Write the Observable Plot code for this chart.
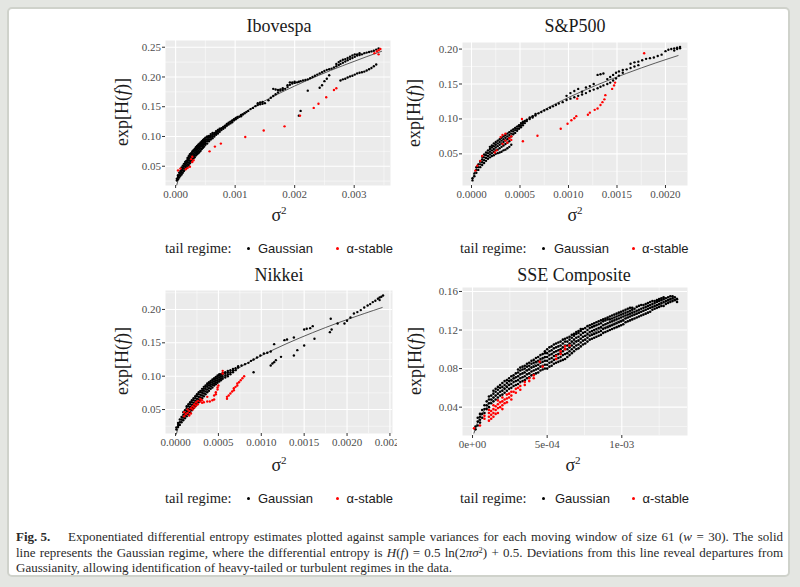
<!DOCTYPE html>
<html><head><meta charset="utf-8">
<script src="https://cdn.jsdelivr.net/npm/d3@7"></script>
<script src="https://cdn.jsdelivr.net/npm/@observablehq/plot@0.6"></script>
<style>
html,body{margin:0;padding:0;}
body{width:800px;height:587px;overflow:hidden;position:relative;background:#e4e6e2;font-family:"Liberation Serif",serif;}
#card{position:absolute;left:7px;top:7px;width:783px;height:570px;background:#fff;border:2px solid #cfd2cb;border-radius:5px;box-sizing:border-box;}
.abs{position:absolute;white-space:nowrap;}
.title{font-size:18px;color:#1a1a1a;}
.ylab{font-size:18px;color:#1a1a1a;}
.xlab{font-size:18px;color:#1a1a1a;}
.xlab sup{font-size:11px;vertical-align:0.55em;line-height:0;}
.lg-t{font-size:14.5px;color:#1a1a1a;font-family:"Liberation Serif",serif;}
.lg-k{font-family:"Liberation Sans",sans-serif;font-size:13px;color:#1a1a1a;}
.dot{width:3px;height:3px;border-radius:50%;}
.cap{font-size:13px;color:#2a2a2a;line-height:15px;}
.cap sup{font-size:8.5px;vertical-align:0.5em;line-height:0;}
svg{overflow:hidden;}
</style></head><body>
<div id="card"></div>
<script>
// ---------- data ----------
const titles = ["Ibovespa", "S&P500", "Nikkei", "SSE Composite"];
const legendTitle = "tail regime:";
const legendKeys = ["Gaussian", "α-stable"];

// tick values and labels
const iboXTicks = [0, 0.001, 0.002, 0.003];
const iboXLabels = ["0.000", "0.001", "0.002", "0.003"];
const iboXMinor = [0.0005, 0.0015, 0.0025, 0.0035];
const iboYTicks = [0.05, 0.10, 0.15, 0.20, 0.25];
const iboYLabels = ["0.05", "0.10", "0.15", "0.20", "0.25"];
const iboYMinor = [0.025, 0.075, 0.125, 0.175, 0.225];

const spXTicks = [0, 0.0005, 0.001, 0.0015, 0.002];
const spXLabels = ["0.0000", "0.0005", "0.0010", "0.0015", "0.0020"];
const spXMinor = [0.00025, 0.00075, 0.00125, 0.00175];
const spYTicks = [0.05, 0.10, 0.15, 0.20];
const spYLabels = ["0.05", "0.10", "0.15", "0.20"];
const spYMinor = [0.025, 0.075, 0.125, 0.175];

const nikXTicks = [0, 0.0005, 0.001, 0.0015, 0.002, 0.0025];
const nikXLabels = ["0.0000", "0.0005", "0.0010", "0.0015", "0.0020", "0.0025"];
const nikXMinor = [0.00025, 0.00075, 0.00125, 0.00175, 0.00225];
const nikYTicks = [0.05, 0.10, 0.15, 0.20];
const nikYLabels = ["0.05", "0.10", "0.15", "0.20"];
const nikYMinor = [0.025, 0.075, 0.125, 0.175, 0.225];

const sseXTicks = [0, 0.0005, 0.001];
const sseXLabels = ["0e+00", "5e-04", "1e-03"];
const sseXMinor = [0.00025, 0.00075, 0.00125];
const sseYTicks = [0.04, 0.08, 0.12, 0.16];
const sseYLabels = ["0.04", "0.08", "0.12", "0.16"];
const sseYMinor = [0.02, 0.06, 0.10, 0.14];

// Gaussian-regime reference curve (sigma^2, exp[H(f)])
const iboLineX = [0.00002, 0.00005, 0.0001, 0.0002, 0.0003, 0.0005, 0.0007, 0.001, 0.0013, 0.0016, 0.002, 0.0024, 0.0028, 0.0032, 0.00346];
const iboLineY = [0.0185, 0.0292, 0.0413, 0.0584, 0.0716, 0.0924, 0.1093, 0.1307, 0.149, 0.1653, 0.1848, 0.2025, 0.2187, 0.2338, 0.2431];
const spLineX = [0.00001, 0.00003, 0.00006, 0.0001, 0.0002, 0.0003, 0.0005, 0.0007, 0.001, 0.0013, 0.0016, 0.0019, 0.00213];
const spLineY = [0.0131, 0.0226, 0.032, 0.0413, 0.0584, 0.0716, 0.0924, 0.1093, 0.1307, 0.149, 0.1653, 0.1802, 0.1907];
const nikLineX = [0.00001, 0.00003, 0.00006, 0.0001, 0.0002, 0.0003, 0.0005, 0.0007, 0.001, 0.0013, 0.0016, 0.0019, 0.0022, 0.00241];
const nikLineY = [0.0131, 0.0226, 0.032, 0.0413, 0.0584, 0.0716, 0.0924, 0.1093, 0.1307, 0.149, 0.1653, 0.1802, 0.1938, 0.2029];
const sseLineX = [0.00001, 0.00003, 0.00006, 0.0001, 0.0002, 0.0003, 0.0005, 0.0007, 0.001, 0.0013, 0.00137];
const sseLineY = [0.0131, 0.0226, 0.032, 0.0413, 0.0584, 0.0716, 0.0924, 0.1093, 0.1307, 0.149, 0.153];

// scatter points: each row is [sigma^2, exp[H(f)] values at that sigma^2 ...]
const iboGaussian = [
[0.00002,0.026,0.029],[0.00004,0.028,0.032,0.035],[0.00006,0.031,0.035,0.039],[0.00008,0.034,0.038,0.042],
[0.0001,0.036,0.04,0.044,0.048],[0.00012,0.039,0.043,0.047,0.051],[0.00014,0.042,0.046,0.05,0.054],
[0.00016,0.045,0.049,0.053,0.057],[0.00018,0.047,0.051,0.055,0.059],[0.0002,0.049,0.053,0.057,0.061,0.064],
[0.00022,0.052,0.056,0.06,0.064,0.067],[0.00024,0.055,0.059,0.063,0.067,0.07],[0.00026,0.058,0.062,0.066,0.07,0.072],
[0.00028,0.06,0.064,0.068,0.072,0.075],[0.0003,0.063,0.067,0.071,0.075,0.077],[0.00032,0.065,0.069,0.073,0.077,0.079],
[0.00034,0.068,0.072,0.076,0.079,0.082],[0.00036,0.07,0.074,0.078,0.081,0.084],[0.00038,0.072,0.076,0.08,0.083,0.086],
[0.0004,0.074,0.078,0.082,0.085,0.088],[0.00042,0.076,0.08,0.084,0.087,0.09],[0.00044,0.079,0.083,0.086,0.089,0.092],
[0.00046,0.081,0.085,0.088,0.091,0.094],[0.00048,0.083,0.087,0.09,0.093,0.096],[0.0005,0.086,0.089,0.092,0.095,0.098],
[0.00053,0.088,0.092,0.095,0.098,0.1],[0.00056,0.092,0.095,0.098,0.101],[0.00059,0.095,0.098,0.101,0.104],
[0.00062,0.097,0.1,0.103,0.106],[0.00065,0.1,0.103,0.106],[0.00068,0.103,0.106,0.109],[0.00071,0.105,0.108,0.111],
[0.00074,0.108,0.111,0.113],[0.00077,0.111,0.114],[0.0008,0.113,0.116],[0.00083,0.115,0.118],[0.00086,0.118,0.121],
[0.00089,0.12,0.123],[0.00092,0.122,0.125],[0.00095,0.124,0.127],[0.00098,0.127,0.129],[0.00101,0.129,0.131],
[0.00104,0.131,0.133],[0.00107,0.133],[0.0011,0.134,0.136],[0.00113,0.137],[0.00116,0.139],[0.00119,0.141],
[0.00122,0.143],[0.00126,0.146],[0.0013,0.148],[0.00134,0.151],[0.00138,0.153,0.156],[0.00142,0.154,0.157],
[0.00146,0.155,0.158],[0.0015,0.156],[0.00156,0.161],[0.0016,0.165],[0.00164,0.168,0.18],[0.00168,0.171,0.179],
[0.00172,0.174,0.178],[0.00176,0.177,0.179],[0.0018,0.178,0.181],[0.00184,0.18],[0.00188,0.183,0.186],
[0.00192,0.187,0.191],[0.00196,0.189,0.191],[0.002,0.19,0.192],[0.00204,0.191],[0.00207,0.135,0.192],
[0.0021,0.143,0.193],[0.00214,0.194],[0.00218,0.195],[0.00222,0.177,0.196],[0.00226,0.198],[0.0023,0.2],
[0.00234,0.202],[0.00238,0.204],[0.00242,0.182,0.206],[0.00246,0.186,0.208],[0.0025,0.193,0.21],
[0.00254,0.197,0.212],[0.00258,0.203,0.213],[0.00262,0.214],[0.00266,0.216],[0.0027,0.218,0.222],
[0.00274,0.22,0.225],[0.00277,0.194,0.222,0.227],[0.00281,0.196,0.224,0.229],[0.00285,0.197,0.226,0.23],
[0.00289,0.199,0.228,0.232],[0.00293,0.201,0.23,0.234],[0.00297,0.202,0.232,0.236],[0.00301,0.204,0.234,0.238],
[0.00305,0.206,0.236,0.238],[0.00309,0.207,0.237,0.24],[0.00313,0.208,0.238],[0.00317,0.209,0.24],
[0.00321,0.211,0.241],[0.00325,0.213,0.242],[0.00329,0.215,0.243],[0.00333,0.218,0.244],[0.00337,0.221,0.246],
[0.00341,0.248]
];
const iboStable = [
[0.00004,0.043],[0.00008,0.046],[0.00017,0.045],[0.0002,0.047],[0.00024,0.049],[0.00026,0.062],
[0.00028,0.057,0.066],[0.0003,0.06],[0.00057,0.075],[0.00066,0.083],[0.00076,0.088],[0.00117,0.099],
[0.00148,0.11],[0.00183,0.117],[0.00209,0.135],[0.00232,0.148],[0.0024,0.155],[0.00253,0.166],
[0.00266,0.178],[0.0027,0.181],[0.00334,0.24],[0.00338,0.243],[0.00341,0.238,0.245],[0.00344,0.247]
];

const spGaussian = [
[0.00001,0.012,0.015],[0.00003,0.018,0.022],[0.00005,0.023,0.027,0.031],[0.00007,0.027,0.031,0.035],
[0.00009,0.031,0.035,0.039],[0.00011,0.034,0.038,0.042,0.046],[0.00013,0.037,0.041,0.045,0.049],
[0.00015,0.04,0.044,0.048,0.052],[0.00017,0.043,0.047,0.051,0.055],[0.00019,0.045,0.049,0.053,0.057,0.06],
[0.00021,0.047,0.051,0.055,0.059,0.062],[0.00023,0.048,0.053,0.057,0.061,0.065],[0.00025,0.05,0.055,0.059,0.063,0.067],
[0.00027,0.051,0.056,0.061,0.065,0.069],[0.00029,0.052,0.058,0.063,0.067,0.071],[0.00031,0.053,0.06,0.065,0.069,0.073],
[0.00033,0.055,0.062,0.067,0.071,0.075],[0.00035,0.056,0.064,0.069,0.073,0.077],[0.00037,0.058,0.066,0.071,0.075,0.079],
[0.00039,0.06,0.068,0.073,0.077,0.081],[0.00041,0.063,0.075,0.079,0.083],[0.00043,0.078,0.082,0.085],
[0.00045,0.08,0.084,0.087],[0.00047,0.083,0.086,0.089],[0.00049,0.086,0.089,0.091],[0.00051,0.088,0.091,0.094],
[0.00053,0.091,0.094,0.096],[0.00055,0.094,0.097],[0.00057,0.097,0.099],[0.0006,0.1,0.102],[0.00063,0.102,0.104],
[0.00066,0.105,0.107],[0.00069,0.108],[0.00072,0.11],[0.00075,0.112],[0.00078,0.114],[0.00081,0.116],
[0.00084,0.118],[0.00087,0.12],[0.0009,0.122],[0.00094,0.124],[0.00098,0.127,0.133],[0.00102,0.129,0.137],
[0.00106,0.131,0.14],[0.0011,0.133,0.143],[0.00114,0.135,0.139],[0.00118,0.137,0.145],[0.00122,0.14,0.147],
[0.00126,0.142,0.15],[0.0013,0.144,0.163],[0.00133,0.146,0.164],[0.00136,0.148,0.165],[0.0014,0.15,0.157],
[0.00143,0.152,0.16],[0.00146,0.155,0.163],[0.00149,0.158,0.166],[0.00152,0.162,0.168],[0.00156,0.166,0.17],
[0.0016,0.171],[0.00164,0.173,0.179],[0.00168,0.175,0.181],[0.00172,0.177,0.182],[0.00176,0.184],[0.0018,0.186],
[0.00184,0.187],[0.00188,0.188],[0.00192,0.19],[0.00196,0.192],[0.002,0.197],[0.00203,0.199],[0.00206,0.2],
[0.00209,0.198,0.201],[0.00212,0.2,0.202],[0.00215,0.201,0.203]
];
const spStable = [
[0.00004,0.026],[0.00006,0.033],[0.00009,0.04],[0.00011,0.047],[0.00024,0.052],[0.00026,0.055],[0.0003,0.074],
[0.00032,0.064,0.077],[0.00035,0.069,0.079],[0.00037,0.066],[0.00039,0.072],[0.00041,0.07,0.075],[0.00052,0.1],
[0.00053,0.068],[0.00068,0.076],[0.00092,0.086],[0.00099,0.093],[0.00103,0.098],[0.00106,0.101],[0.00108,0.104],
[0.00109,0.129],[0.0012,0.106],[0.00122,0.109],[0.00127,0.113],[0.0013,0.115],[0.00133,0.12],[0.00135,0.124],
[0.00137,0.128],[0.00138,0.134],[0.00145,0.143],[0.00147,0.148],[0.00148,0.152],[0.00178,0.194]
];

const nikGaussian = [
[0.00001,0.02,0.023],[0.00003,0.024,0.027,0.03],[0.00005,0.027,0.031,0.035],[0.00007,0.031,0.035,0.039],
[0.00009,0.034,0.038,0.042,0.046],[0.00011,0.037,0.041,0.045,0.049],[0.00013,0.04,0.044,0.048,0.052,0.055],
[0.00015,0.043,0.047,0.051,0.055,0.058],[0.00017,0.046,0.05,0.054,0.058,0.061],[0.00019,0.049,0.053,0.057,0.061,0.064],
[0.00021,0.052,0.056,0.06,0.064,0.067],[0.00023,0.055,0.059,0.063,0.067,0.07],[0.00025,0.058,0.062,0.066,0.07,0.073],
[0.00027,0.061,0.065,0.069,0.073,0.076],[0.00029,0.064,0.068,0.072,0.076,0.078],[0.00031,0.067,0.071,0.075,0.078,0.081],
[0.00033,0.07,0.074,0.078,0.081,0.084],[0.00035,0.073,0.077,0.081,0.084,0.086],[0.00037,0.076,0.08,0.084,0.087,0.089],
[0.00039,0.078,0.082,0.086,0.089,0.091],[0.00041,0.081,0.085,0.088,0.091,0.093],[0.00043,0.083,0.087,0.09,0.093,0.095],
[0.00045,0.086,0.089,0.092,0.095,0.097],[0.00047,0.088,0.091,0.094,0.097,0.099],[0.00049,0.09,0.093,0.096,0.099,0.101],
[0.00051,0.092,0.095,0.098,0.101,0.103],[0.00053,0.094,0.097,0.1,0.103],[0.00055,0.096,0.099,0.102,0.105],
[0.00058,0.098,0.101,0.104,0.106],[0.00061,0.1,0.103,0.106,0.108],[0.00064,0.103,0.106,0.109],[0.00067,0.106,0.109,0.111],
[0.0007,0.109,0.112],[0.00073,0.113,0.115],[0.00077,0.116],[0.00081,0.118],[0.00085,0.12],[0.00088,0.123],
[0.00091,0.106,0.125],[0.00095,0.128],[0.00099,0.131],[0.00103,0.134],[0.00107,0.135],[0.00111,0.116,0.137],
[0.00113,0.119],[0.00115,0.121,0.148],[0.00117,0.124],[0.00123,0.129],[0.00127,0.154],[0.0013,0.155],
[0.00138,0.131,0.158],[0.00142,0.139],[0.0015,0.146,0.17],[0.00153,0.171],[0.00157,0.172],[0.0016,0.175],
[0.00162,0.156],[0.0018,0.166],[0.00181,0.186],[0.00182,0.17],[0.00189,0.179],[0.00197,0.179],[0.002,0.183],
[0.00204,0.188],[0.00208,0.194],[0.00212,0.196],[0.00216,0.199],[0.0022,0.203],[0.00224,0.206],[0.00227,0.208],
[0.0023,0.211],[0.00233,0.213],[0.00236,0.216],[0.00238,0.214,0.218],[0.0024,0.219],[0.00242,0.221]
];
const nikStable = [
[0.0001,0.04,0.046],[0.00012,0.043],[0.00014,0.045,0.05],[0.00016,0.041,0.048],[0.00018,0.044,0.052],
[0.0002,0.05,0.055],[0.00022,0.053,0.058],[0.00024,0.056,0.061],[0.00026,0.058,0.063],[0.00029,0.062,0.066],
[0.00031,0.06,0.064],[0.00033,0.061],[0.00037,0.062,0.069],[0.0004,0.062],[0.00043,0.064],[0.00045,0.065,0.071],
[0.00047,0.073,0.076],[0.00049,0.08,0.083],[0.0005,0.086],[0.00055,0.104,0.108],[0.0006,0.066,0.069],
[0.00062,0.071],[0.00064,0.074],[0.00066,0.077],[0.00068,0.079,0.082],[0.0007,0.084],[0.00072,0.086,0.089],
[0.00074,0.091],[0.00076,0.094],[0.00078,0.097],[0.0008,0.1]
];

const sseGaussian = [
[0.00002,0.017,0.02],[0.00005,0.024,0.027,0.03,0.033],[0.00008,0.034,0.038,0.042],[0.00011,0.04,0.044,0.048,0.051],
[0.00014,0.046,0.05,0.054,0.057],[0.00017,0.05,0.054,0.058,0.061],[0.0002,0.053,0.057,0.061,0.065],
[0.00023,0.057,0.061,0.065,0.068],[0.00026,0.06,0.064,0.068,0.072],[0.00029,0.063,0.067,0.071,0.075],
[0.00032,0.066,0.07,0.074,0.078,0.081],[0.00035,0.068,0.072,0.076,0.08,0.083],[0.00038,0.071,0.075,0.079,0.083,0.086],
[0.00041,0.074,0.078,0.082,0.086,0.089],[0.00044,0.076,0.08,0.084,0.088,0.092],[0.00047,0.079,0.083,0.087,0.091,0.095],
[0.0005,0.08,0.084,0.088,0.092,0.096,0.1],[0.00053,0.083,0.087,0.091,0.095,0.099,0.103],
[0.00056,0.086,0.09,0.094,0.098,0.102,0.106],[0.00059,0.088,0.092,0.096,0.1,0.104,0.108],
[0.00062,0.09,0.095,0.1,0.104,0.108,0.111],[0.00065,0.094,0.098,0.102,0.106,0.11,0.113],
[0.00068,0.098,0.102,0.106,0.11,0.114,0.116],[0.00071,0.101,0.105,0.109,0.113,0.117,0.119],
[0.00074,0.105,0.109,0.113,0.117,0.121],[0.00077,0.108,0.112,0.116,0.12,0.124],[0.0008,0.111,0.115,0.119,0.123,0.126],
[0.00083,0.113,0.117,0.121,0.125,0.128],[0.00086,0.115,0.119,0.123,0.127,0.13],[0.00089,0.118,0.122,0.126,0.13,0.132],
[0.00092,0.12,0.124,0.128,0.131,0.134],[0.00095,0.122,0.126,0.13,0.133,0.136],[0.00098,0.124,0.128,0.132,0.135,0.138],
[0.00101,0.126,0.13,0.134,0.137,0.14],[0.00104,0.129,0.133,0.136,0.139,0.142],[0.00107,0.131,0.135,0.138,0.141,0.143],
[0.0011,0.133,0.137,0.14,0.144],[0.00113,0.135,0.139,0.142,0.146],[0.00116,0.137,0.141,0.144,0.147],
[0.00119,0.139,0.143,0.146,0.149],[0.00122,0.142,0.145,0.148,0.15],[0.00125,0.144,0.147,0.15,0.152],
[0.00128,0.145,0.149,0.152,0.154],[0.00131,0.148,0.151,0.154],[0.00134,0.15,0.153,0.155],[0.00137,0.149,0.152],
[0.000035,0.021,0.025,0.029],[0.000065,0.029,0.033,0.037],[0.000095,0.038,0.042,0.046],[0.000125,0.044,0.048,0.052],
[0.000155,0.048,0.052,0.056,0.059],[0.000185,0.052,0.056,0.06,0.063],[0.000215,0.055,0.059,0.063,0.067],
[0.000245,0.059,0.063,0.067,0.07],[0.000275,0.062,0.066,0.07,0.073],[0.000305,0.064,0.068,0.072,0.076,0.079],
[0.000335,0.067,0.071,0.075,0.079,0.082],[0.000365,0.07,0.074,0.078,0.082,0.085],[0.000395,0.073,0.077,0.081,0.085,0.088],
[0.000425,0.075,0.079,0.083,0.087,0.091],[0.000455,0.078,0.082,0.086,0.09,0.094],[0.000485,0.08,0.084,0.088,0.092,0.096,0.098],
[0.000515,0.082,0.086,0.09,0.094,0.098,0.102],[0.000545,0.085,0.089,0.093,0.097,0.101,0.105],
[0.000575,0.087,0.091,0.095,0.099,0.103,0.107],[0.000605,0.089,0.094,0.098,0.102,0.106,0.11],
[0.000635,0.092,0.096,0.1,0.104,0.108,0.112],[0.000665,0.096,0.1,0.104,0.108,0.112,0.115],
[0.000695,0.1,0.104,0.108,0.112,0.116,0.118],[0.000725,0.103,0.107,0.111,0.115,0.119,0.121],
[0.000755,0.106,0.11,0.114,0.118,0.122],[0.000785,0.11,0.114,0.118,0.122,0.125],[0.000815,0.112,0.116,0.12,0.124,0.127],
[0.000845,0.114,0.118,0.122,0.126,0.129],[0.000875,0.117,0.121,0.125,0.129,0.131],[0.000905,0.119,0.123,0.127,0.131,0.133],
[0.000935,0.121,0.125,0.129,0.132,0.135],[0.000965,0.123,0.127,0.131,0.134,0.137],[0.000995,0.125,0.129,0.133,0.136,0.139],
[0.001025,0.128,0.132,0.135,0.138,0.141],[0.001055,0.13,0.134,0.137,0.14,0.143],[0.001085,0.132,0.136,0.139,0.142],
[0.001115,0.134,0.138,0.141,0.145],[0.001145,0.136,0.14,0.143,0.146],[0.001175,0.138,0.142,0.145,0.148],
[0.001205,0.141,0.144,0.147,0.15],[0.001235,0.143,0.146,0.149,0.151],[0.001265,0.145,0.148,0.151,0.153],
[0.001295,0.147,0.15,0.153],[0.001325,0.149,0.152,0.155],[0.001355,0.151,0.154]
];
const sseStable = [
[0.00001,0.018],[0.00005,0.021],[0.00008,0.028,0.031],[0.00011,0.026,0.03,0.034,0.037],
[0.00014,0.03,0.034,0.038,0.042],[0.00017,0.034,0.039,0.043,0.047],[0.0002,0.038,0.042,0.046,0.05],
[0.00023,0.045,0.049,0.053],[0.00026,0.048,0.052,0.056],[0.00029,0.055,0.059],[0.00032,0.058,0.062],
[0.00035,0.063,0.066],[0.00038,0.067,0.07],[0.00041,0.07,0.073],[0.00045,0.087],[0.00047,0.082],
[0.00056,0.09,0.093],[0.00059,0.095,0.098],[0.00062,0.1,0.103],[0.00065,0.104],
[0.000125,0.028,0.032,0.036],[0.000155,0.033,0.037,0.041],[0.000185,0.04,0.045],[0.000215,0.044,0.048],
[0.000245,0.05,0.054],[0.000275,0.056],[0.000305,0.06]
];

// ---------- layout ----------
const panels = [
  {title: titles[0], rect: [165, 40, 390, 185], xdom: [-0.00017, 0.00361], ydom: [0.0176, 0.2613], mR: 14, r: 1.2,
   xt: iboXTicks, xl: iboXLabels, xm: iboXMinor, yt: iboYTicks, yl: iboYLabels, ym: iboYMinor,
   lx: iboLineX, ly: iboLineY, g: iboGaussian, s: iboStable,
   titlePos: [279, 26], ylabPos: [122, 112], xlabPos: [279, 215], legendY: 248, legendX: [165, 248, 258, 337.5, 346.5]},
  {title: titles[1], rect: [462, 42, 687, 185], xdom: [-0.0000928, 0.002227], ydom: [0.0047, 0.2094], mR: 14, r: 1.2,
   xt: spXTicks, xl: spXLabels, xm: spXMinor, yt: spYTicks, yl: spYLabels, ym: spYMinor,
   lx: spLineX, ly: spLineY, g: spGaussian, s: spStable,
   titlePos: [575, 26], ylabPos: [414, 113], xlabPos: [575, 215], legendY: 248, legendX: [460, 543, 554, 633, 642]},
  {title: titles[2], rect: [165, 290, 392, 433], xdom: [-0.000117, 0.00253], ydom: [0.0141, 0.2284], mR: 5, r: 1.2,
   xt: nikXTicks, xl: nikXLabels, xm: nikXMinor, yt: nikYTicks, yl: nikYLabels, ym: nikYMinor,
   lx: nikLineX, ly: nikLineY, g: nikGaussian, s: nikStable,
   titlePos: [279, 275], ylabPos: [122, 361], xlabPos: [279, 465], legendY: 498, legendX: [165, 248, 258, 337, 346.5]},
  {title: titles[3], rect: [462, 287, 687, 435], xdom: [-0.0000671, 0.00144], ydom: [0.0106, 0.1641], mR: 14, r: 1.3,
   xt: sseXTicks, xl: sseXLabels, xm: sseXMinor, yt: sseYTicks, yl: sseYLabels, ym: sseYMinor,
   lx: sseLineX, ly: sseLineY, g: sseGaussian, s: sseStable,
   titlePos: [574, 275], ylabPos: [415, 361], xlabPos: [573, 465], legendY: 498, legendX: [460, 543, 555, 633, 642.5]}
];

function place(html, cls, css) {
  const d = document.createElement("div");
  d.className = "abs " + cls;
  d.innerHTML = html;
  Object.assign(d.style, css);
  document.body.appendChild(d);
  return d;
}
const rows = (arr) => arr.flatMap(r => r.slice(1).map(y => ({x: r[0], y})));
const axisText = {fontFamily: "Liberation Serif", fontSize: 11, fill: "#4d4d4d", stroke: "#333"};

for (const p of panels) {
  const mL = 48, mR = p.mR, mT = 4, mB = 24;
  const [l, t, r, b] = p.rect;
  const xFmt = new Map(p.xt.map((v, i) => [v, p.xl[i]]));
  const yFmt = new Map(p.yt.map((v, i) => [v, p.yl[i]]));
  const line = p.lx.map((x, i) => ({x, y: p.ly[i]}));
  const svg = Plot.plot({
    width: r - l + mL + mR, height: b - t + mT + mB,
    marginLeft: mL, marginRight: mR, marginTop: mT, marginBottom: mB,
    style: {background: "transparent", fontFamily: "Liberation Serif", fontSize: "11px", color: "#4d4d4d", overflow: "hidden"},
    x: {domain: p.xdom}, y: {domain: p.ydom},
    marks: [
      Plot.frame({fill: "#ebebeb", stroke: "none"}),
      Plot.ruleX(p.xm, {stroke: "#fff", strokeWidth: 0.5}),
      Plot.ruleY(p.ym, {stroke: "#fff", strokeWidth: 0.5}),
      Plot.ruleX(p.xt, {stroke: "#fff", strokeWidth: 1.1}),
      Plot.ruleY(p.yt, {stroke: "#fff", strokeWidth: 1.1}),
      Plot.line(line, {x: "x", y: "y", stroke: "#4a4a4a", strokeWidth: 0.9, curve: "monotone-x"}),
      Plot.dot(rows(p.g), {x: "x", y: "y", r: p.r, fill: "#000", clip: true}),
      Plot.dot(rows(p.s), {x: "x", y: "y", r: p.r, fill: "#ff0000", clip: true}),
      Plot.axisX({ticks: p.xt, tickFormat: d => xFmt.get(d), tickSize: 3, tickPadding: 2, label: null, ...axisText}),
      Plot.axisY({ticks: p.yt, tickFormat: d => yFmt.get(d), tickSize: 3, tickPadding: 1.5, label: null, ...axisText})
    ]
  });
  svg.style.position = "absolute";
  svg.style.left = (l - mL) + "px";
  svg.style.top = (t - mT) + "px";
  document.body.appendChild(svg);

  place(p.title, "title", {left: p.titlePos[0] + "px", top: p.titlePos[1] + "px", transform: "translate(-50%,-50%)"});
  place("exp[H(<i>f</i>)]", "ylab", {left: p.ylabPos[0] + "px", top: p.ylabPos[1] + "px", transform: "translate(-50%,-50%) rotate(-90deg)"});
  place("σ<sup>2</sup>", "xlab", {left: p.xlabPos[0] + "px", top: p.xlabPos[1] + "px", transform: "translate(-50%,-50%)"});
  const [lt, d1, k1, d2, k2] = p.legendX, ly = p.legendY;
  place(legendTitle, "lg-t", {left: lt + "px", top: ly + "px", transform: "translateY(-50%)"});
  place("", "dot", {left: (d1 - 1.5) + "px", top: (ly - 1.5) + "px", background: "#000"});
  place(legendKeys[0], "lg-k", {left: k1 + "px", top: ly + "px", transform: "translateY(-50%)"});
  place("", "dot", {left: (d2 - 1.5) + "px", top: (ly - 1.5) + "px", background: "#f00"});
  place(legendKeys[1], "lg-k", {left: k2 + "px", top: ly + "px", transform: "translateY(-50%)"});
}

// ---------- caption ----------
place("<b>Fig. 5.</b>", "cap", {left: "16px", top: "529px"});
place("Exponentiated differential entropy estimates plotted against sample variances for each moving window of size 61 (<i>w</i> = 30). The solid",
  "cap", {left: "68px", top: "529px", width: "715px", whiteSpace: "normal", textAlign: "justify", textAlignLast: "justify"});
place("line represents the Gaussian regime, where the differential entropy is <i>H</i>(<i>f</i>) = 0.5 ln(2<i>πσ</i><sup>2</sup>) + 0.5. Deviations from this line reveal departures from",
  "cap", {left: "16px", top: "544.5px", width: "767px", whiteSpace: "normal", textAlign: "justify", textAlignLast: "justify"});
place("Gaussianity, allowing identification of heavy-tailed or turbulent regimes in the data.",
  "cap", {left: "16px", top: "560px"});
</script>
</body></html>
